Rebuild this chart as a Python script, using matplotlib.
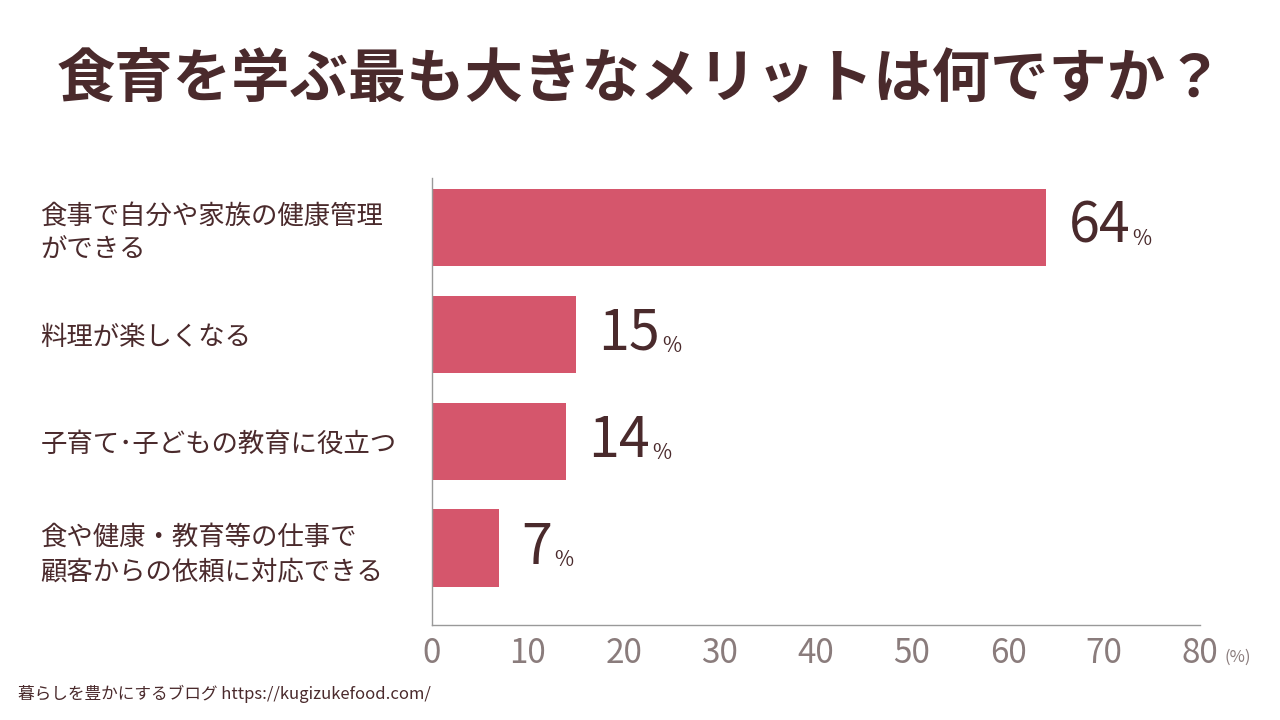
import matplotlib
matplotlib.use("Agg")
import matplotlib.pyplot as plt

plt.rcParams['font.family'] = 'Noto Sans CJK JP'

categories = ["食事で自分や家族の健康管理\nができる", "料理が楽しくなる",
              "子育て･子どもの教育に役立つ", "食や健康・教育等の仕事で\n顧客からの依頼に対応できる"]
values = [64, 15, 14, 7]
ticks = [0, 10, 20, 30, 40, 50, 60, 70, 80]

dark = '#4a2a2c'
bar_color = '#d5566c'
grey = '#8a7c7c'

fig = plt.figure(figsize=(12.8, 7.2), dpi=100)
ax = fig.add_axes([0.3375, 0.1319, 0.6, 0.6208])

ypos = list(range(len(values)))
ax.barh(ypos, values, height=0.72, color=bar_color)
ax.set_xlim(0, 80)
ax.set_ylim(3.72, -0.458)

for s in ['top', 'right']:
    ax.spines[s].set_visible(False)
for s in ['left', 'bottom']:
    ax.spines[s].set_color('#999999')
    ax.spines[s].set_linewidth(1)

ax.set_xticks(ticks)
ax.set_xticklabels([str(t) for t in ticks], fontsize=24, color=grey)
ax.tick_params(axis='x', length=0, pad=8)
ax.set_yticks(ypos)
ax.set_yticklabels(categories, fontsize=19, color=dark, ha='left', linespacing=1.35)
# pad is in points: 392 px * 0.72
ax.tick_params(axis='y', length=0, pad=282)
fig.text(1224 / 1280, 1 - 657 / 720, "(%)", fontsize=12, color=grey, ha='left', va='center')

fig.canvas.draw()
renderer = fig.canvas.get_renderer()
for y, v in zip(ypos, values):
    t = ax.annotate(str(v), (v, y), xytext=(16, 0), textcoords='offset points',
                    fontsize=40, color=dark, ha='left', va='center')
    bb = t.get_window_extent(renderer)
    fig.text((bb.x1 + 2) / 1280, (bb.y0 + bb.height * 0.3) / 720, "%", fontsize=15,
             color=dark, ha='left', va='center')

fig.text(0.5, 1 - 80 / 720, "食育を学ぶ最も大きなメリットは何ですか？", fontsize=42,
         fontweight='bold', color=dark, ha='center', va='center')
fig.text(18 / 1280, 1 - 694 / 720, "暮らしを豊かにするブログ https://kugizukefood.com/",
         fontsize=12, color=dark, ha='left', va='center')

fig.savefig("out.png", dpi=100, facecolor='white')
